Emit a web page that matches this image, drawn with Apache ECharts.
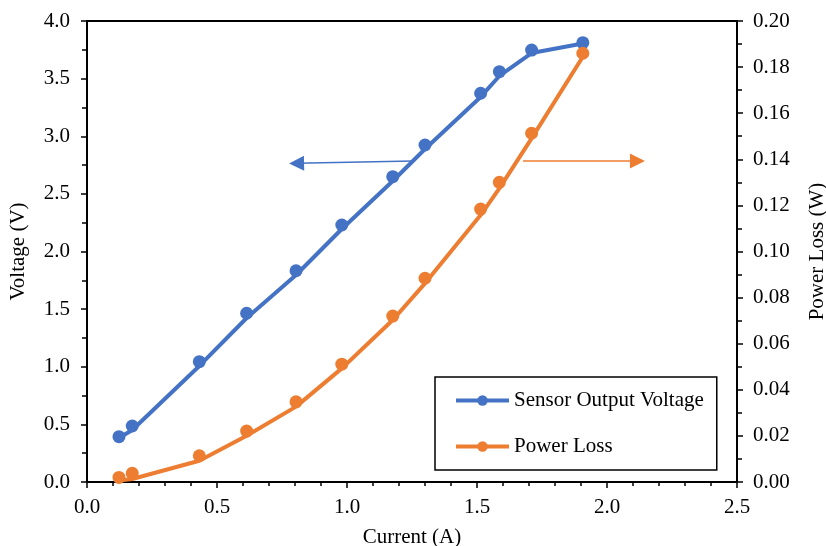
<!DOCTYPE html>
<html>
<head>
<meta charset="utf-8">
<script src="https://cdn.jsdelivr.net/npm/echarts@6/dist/echarts.min.js"></script>
<style>html,body{margin:0;padding:0;background:#fff}#c{width:826px;height:546px}</style>
</head>
<body>
<div id="c"></div>
<script>
// Current (A) at each measurement
var currentA = [0.123, 0.174, 0.432, 0.614, 0.804, 0.980, 1.176, 1.300, 1.514, 1.586, 1.710, 1.907];
// Sensor output voltage markers (V)
var voltage = [0.393, 0.486, 1.044, 1.464, 1.833, 2.230, 2.649, 2.924, 3.373, 3.560, 3.748, 3.812];
// Power loss markers (W)
var powerW = [0.0020, 0.0038, 0.0114, 0.0221, 0.0348, 0.0511, 0.0720, 0.0884, 0.1184, 0.1300, 0.1513, 0.1860];
// Drawn curves (slightly offset from markers)
var voltageLine = [0.382, 0.451, 1.007, 1.423, 1.796, 2.195, 2.612, 2.889, 3.341, 3.523, 3.722, 3.805];
var powerLine = [0.0007, 0.0013, 0.0092, 0.0201, 0.0327, 0.0493, 0.0703, 0.0862, 0.1158, 0.1274, 0.1491, 0.1845];
// Tick labels
var xTickLabels = ['0.0', '0.5', '1.0', '1.5', '2.0', '2.5'];
var yLeftTickLabels = ['0.0', '0.5', '1.0', '1.5', '2.0', '2.5', '3.0', '3.5', '4.0'];
var yRightTickLabels = ['0.00', '0.02', '0.04', '0.06', '0.08', '0.10', '0.12', '0.14', '0.16', '0.18', '0.20'];
// Arrow annotations [x, y] pairs (from, to)
var voltArrow = [[1.254, 2.785], [0.806, 2.765]];
var powerArrow = [[1.677, 0.1393], [2.117, 0.1393]];

var seriesNames = ['Sensor Output Voltage', 'Power Loss'];
var blue = '#4472C4', orange = '#ED7D31';
var font = '"Liberation Serif", "Times New Roman", serif';
var fs = 21;

function pairs(xs, ys) { return xs.map(function (x, i) { return [x, ys[i]]; }); }

var chart = echarts.init(document.getElementById('c'), null, { renderer: 'canvas' });
var axisCommon = {
  axisLine: { show: true, lineStyle: { color: '#000', width: 2 } },
  axisTick: { show: true, length: 6, lineStyle: { color: '#000', width: 1.5 } },
  splitLine: { show: false },
  nameTextStyle: { fontFamily: font, fontSize: fs, color: '#000' }
};
chart.setOption({
  animation: false,
  backgroundColor: '#fff',
  grid: { left: 87, right: 89, top: 21, bottom: 64, outerBoundsMode: 'none', containLabel: false,
    show: true, borderColor: '#000', borderWidth: 2, backgroundColor: 'transparent' },
  legend: {
    data: seriesNames,
    orient: 'vertical',
    left: 435, top: 377,
    padding: [13, 13, 13, 19],
    itemGap: 25,
    itemWidth: 53, itemHeight: 13,
    borderColor: '#000', borderWidth: 1.5,
    backgroundColor: '#fff',
    lineStyle: { width: 4 },
    textStyle: { fontFamily: font, fontSize: fs, color: '#000' }
  },
  xAxis: Object.assign({}, axisCommon, {
    type: 'value', min: 0, max: 2.5, interval: 0.5,
    minorTick: { show: true, splitNumber: 5, length: 4, lineStyle: { color: '#000', width: 1.5 } },
    name: 'Current (A)', nameLocation: 'middle', nameGap: 45,
    axisLabel: { margin: 15, fontFamily: font, fontSize: fs, color: '#000',
      formatter: function (v) { return xTickLabels[Math.round(v / 0.5)]; } }
  }),
  yAxis: [
    Object.assign({}, axisCommon, {
      type: 'value', min: 0, max: 4, interval: 0.5, position: 'left',
      minorTick: { show: true, splitNumber: 2, length: 5, lineStyle: { color: '#000', width: 1.5 } },
      name: 'Voltage (V)', nameLocation: 'middle', nameGap: 58, nameRotate: 90,
      axisLabel: { margin: 17, fontFamily: font, fontSize: fs, color: '#000',
        formatter: function (v) { return yLeftTickLabels[Math.round(v / 0.5)]; } }
    }),
    Object.assign({}, axisCommon, {
      type: 'value', min: 0, max: 0.2, interval: 0.02, position: 'right',
      minorTick: { show: true, splitNumber: 2, length: 5, lineStyle: { color: '#000', width: 1.5 } },
      name: 'Power Loss (W)', nameLocation: 'middle', nameGap: 70, nameRotate: 90,
      axisLabel: { margin: 16, fontFamily: font, fontSize: fs, color: '#000',
        formatter: function (v) { return yRightTickLabels[Math.round(v / 0.02)]; } }
    })
  ],
  series: [
    {
      name: seriesNames[0], type: 'line', yAxisIndex: 0,
      data: pairs(currentA, voltageLine),
      symbol: 'circle', symbolSize: 10, showSymbol: false,
      lineStyle: { color: blue, width: 4 }, itemStyle: { color: blue },
      z: 2,
      markLine: {
        silent: true, symbol: ['none', 'triangle'], symbolSize: [15, 15],
        lineStyle: { color: blue, width: 1.5, type: 'solid' },
        label: { show: false },
        data: [[{ coord: voltArrow[0] }, { coord: voltArrow[1] }]]
      }
    },
    {
      name: seriesNames[1], type: 'line', yAxisIndex: 1,
      data: pairs(currentA, powerLine),
      symbol: 'circle', symbolSize: 10, showSymbol: false,
      lineStyle: { color: orange, width: 4 }, itemStyle: { color: orange },
      z: 2,
      markLine: {
        silent: true, symbol: ['none', 'triangle'], symbolSize: [15, 15],
        lineStyle: { color: orange, width: 1.5, type: 'solid' },
        label: { show: false },
        data: [[{ coord: powerArrow[0] }, { coord: powerArrow[1] }]]
      }
    },
    {
      name: seriesNames[0], type: 'scatter', yAxisIndex: 0,
      data: pairs(currentA, voltage), symbol: 'circle', symbolSize: 13,
      itemStyle: { color: blue, opacity: 1 }, z: 3
    },
    {
      name: seriesNames[1], type: 'scatter', yAxisIndex: 1,
      data: pairs(currentA, powerW), symbol: 'circle', symbolSize: 13,
      itemStyle: { color: orange, opacity: 1 }, z: 3
    }
  ]
});
</script>
</body>
</html>
